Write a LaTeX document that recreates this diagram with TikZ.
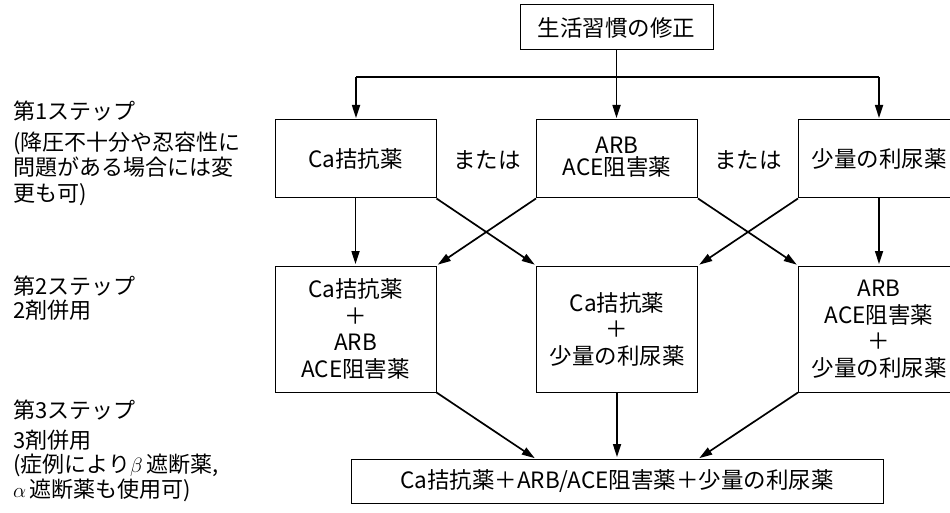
\documentclass[tikz,border=0pt]{standalone}
\usepackage{fontspec}
\setmainfont{Noto Sans CJK JP}
\usetikzlibrary{arrows.meta}
\begin{document}
\begin{tikzpicture}[x=1pt,y=-1pt,
  box/.style={draw, line width=1pt, minimum width=161pt, inner sep=0pt, align=center, font=\fontsize{22.5}{26.5}\selectfont},
  arr/.style={line width=1.7pt, -{Triangle[length=13pt,width=8pt]}, shorten >=1.5pt},
  conn/.style={line width=1.7pt},
  lbl/.style={anchor=base west, inner sep=0pt, font=\fontsize{22}{25}\selectfont},
  ortxt/.style={inner sep=0pt, font=\fontsize{22.5}{25}\selectfont}
]
\useasboundingbox (0,0) rectangle (950,513);
% boxes
\node[box, minimum width=193pt, minimum height=45pt] (top) at (616.5,27.5) {生活習慣の修正};
\node[box, minimum height=78pt] (l1) at (355.5,159) {Ca拮抗薬};
\node[box, minimum height=78pt, font=\fontsize{22.5}{22}\selectfont, text depth=6pt] (m1) at (617,159) {ARB\\ACE阻害薬};
\node[box, minimum height=78pt] (r1) at (879,159) {少量の利尿薬};
\node[box, minimum height=126pt] (l2) at (355.5,329) {Ca拮抗薬\\＋\\ARB\\ACE阻害薬};
\node[box, minimum height=126pt] (m2) at (617,329) {Ca拮抗薬\\＋\\少量の利尿薬};
\node[box, minimum height=126pt] (r2) at (879,329) {ARB\\ACE阻害薬\\＋\\少量の利尿薬};
\node[box, minimum width=532pt, minimum height=44pt] (bot) at (617,481) {Ca拮抗薬＋ARB/ACE阻害薬＋少量の利尿薬};
% or labels
\node[ortxt] (or1) at (487,160) {または};
\node[ortxt] (or2) at (748,160) {または};
% step labels
\node[lbl] (s1) at (13,120) {第1ステップ};
\node[lbl] (s1a) at (13,150.5) {(降圧不十分や忍容性に};
\node[lbl] (s1b) at (13,176) {問題がある場合には変};
\node[lbl] (s1c) at (13,201) {更も可)};
\node[lbl] (s2) at (13,294) {第2ステップ};
\node[lbl] (s2a) at (13,318.5) {2剤併用};
\node[lbl] (s3) at (13,418) {第3ステップ};
\node[lbl] (s3a) at (13,448) {3剤併用};
\node[lbl] (s3b) at (13,472.5) {(症例により$\beta$\,遮断薬,};
\node[lbl] (s3c) at (13,497.5) {$\alpha$\,遮断薬も使用可)};
% connectors
\coordinate (hl) at (356,77);
\coordinate (hm) at (616.5,77);
\coordinate (hr) at (879,77);
\coordinate (b1) at (536,459);
\coordinate (b3) at (698,459);
\draw[conn] (top.south) -- (hm);
\draw[conn] (hl) -- (hr);
\draw[arr] (hl) -- (hl |- l1.north);
\draw[arr] (hm) -- (hm |- m1.north);
\draw[arr] (hr) -- (hr |- r1.north);
\draw[arr] (l1.south) -- (l2.north);
\draw[arr] (l1.south east) -- (m2.north west);
\draw[arr] (m1.south west) -- (l2.north east);
\draw[arr] (m1.south east) -- (r2.north west);
\draw[arr] (r1.south west) -- (m2.north east);
\draw[arr] (r1.south) -- (r2.north);
\draw[arr] (l2.south east) -- (b1);
\draw[arr] (m2.south) -- (m2.south |- bot.north);
\draw[arr] (r2.south west) -- (b3);
\end{tikzpicture}
\end{document}
